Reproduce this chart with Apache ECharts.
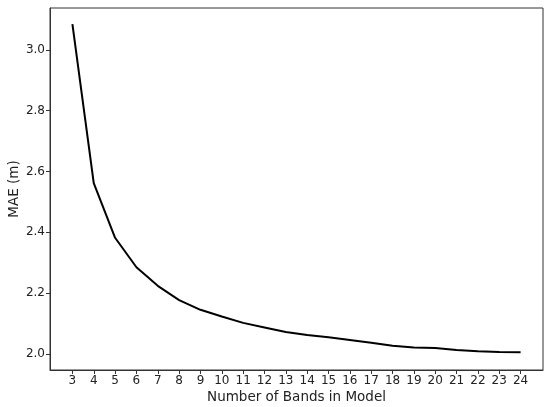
<!DOCTYPE html>
<html>
<head>
<meta charset="utf-8">
<script src="https://cdn.jsdelivr.net/npm/echarts@6/dist/echarts.min.js"></script>
<style>
html,body{margin:0;padding:0;background:#fff;}
#chart{width:550px;height:407px;}
</style>
</head>
<body>
<div id="chart"></div>
<script>
const bands = [3,4,5,6,7,8,9,10,11,12,13,14,15,16,17,18,19,20,21,22,23,24];
const mae = [3.085,2.562,2.382,2.285,2.224,2.177,2.145,2.123,2.102,2.087,2.072,2.062,2.055,2.046,2.037,2.027,2.021,2.019,2.013,2.009,2.006,2.005];
const xTicks = [3,4,5,6,7,8,9,10,11,12,13,14,15,16,17,18,19,20,21,22,23,24];
const yTicks = [2.0,2.2,2.4,2.6,2.8,3.0];
const xName = 'Number of Bands in Model';
const yName = 'MAE (m)';

const chart = echarts.init(document.getElementById('chart'), null, {renderer:'canvas'});
const font = 'DejaVu Sans';
chart.setOption({
  animation:false,
  grid:{left:50,right:7,top:8,bottom:37,outerBoundsMode:'none',containLabel:false,show:true,borderColor:'#333',borderWidth:1,backgroundColor:'transparent'},
  xAxis:{
    type:'value', min:1.95, max:25.05,
    name:xName, nameLocation:'middle', nameGap:20, nameMoveOverlap:false,
    nameTextStyle:{fontFamily:font,fontSize:13.5,color:'#222'},
    axisLine:{show:true,onZero:false,lineStyle:{color:'#333',width:1}},
    axisTick:{show:true,customValues:xTicks,length:4,lineStyle:{color:'#333'}},
    axisLabel:{customValues:xTicks,fontFamily:font,fontSize:12,color:'#222',margin:5},
    splitLine:{show:false}
  },
  yAxis:{
    type:'value', min:1.947, max:3.138,
    name:yName, nameLocation:'middle', nameGap:29, nameRotate:90, nameMoveOverlap:false,
    nameTextStyle:{fontFamily:font,fontSize:13.5,color:'#222'},
    axisLine:{show:true,onZero:false,lineStyle:{color:'#333',width:1}},
    axisTick:{show:true,customValues:yTicks,length:4,lineStyle:{color:'#333'}},
    axisLabel:{customValues:yTicks,fontFamily:font,fontSize:12,color:'#222',margin:5,formatter:v=>v.toFixed(1)},
    splitLine:{show:false}
  },
  series:[{
    type:'line',
    data:bands.map((b,i)=>[b,mae[i]]),
    showSymbol:false,
    lineStyle:{color:'#000',width:2}
  }]
});
</script>
</body>
</html>
